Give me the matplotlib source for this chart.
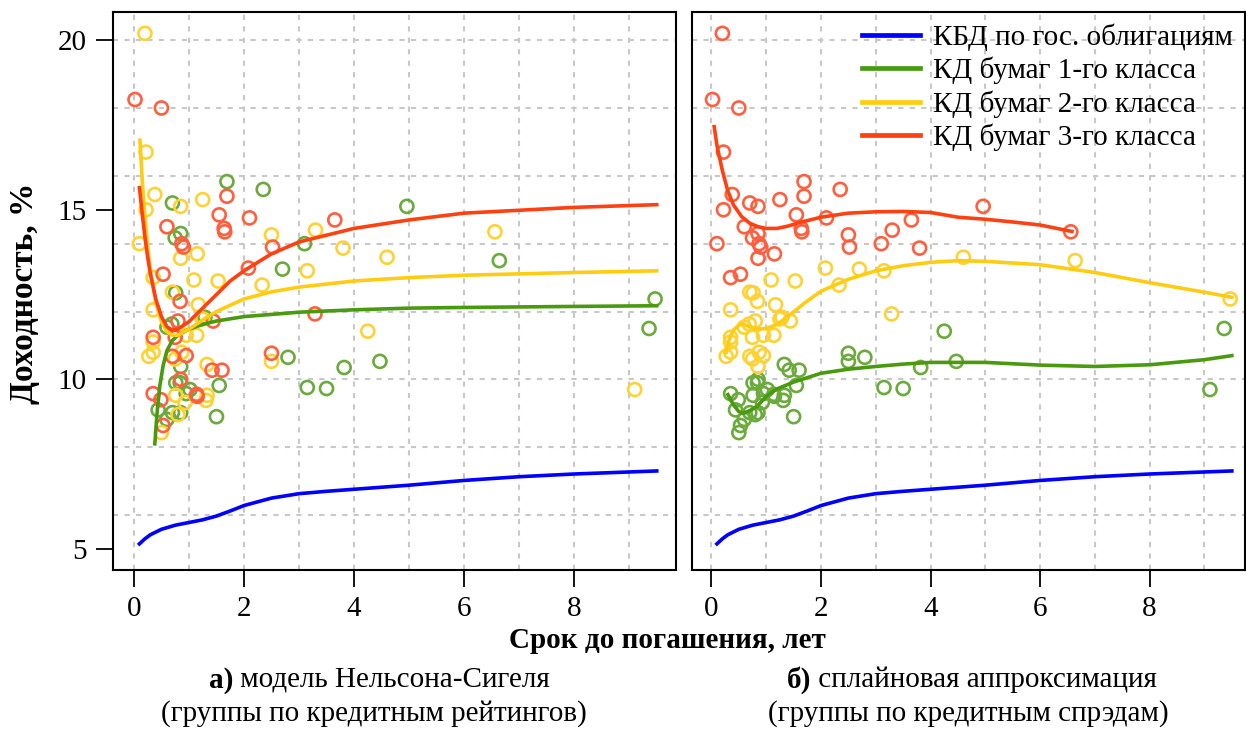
import numpy as np
import matplotlib.pyplot as plt

plt.rcParams['font.family'] = ['Liberation Serif', 'DejaVu Serif']

# bonds: maturity (years), yield (%), group by rating (left) and by spread (right)
mat = [0.20, 0.02, 0.50, 0.22, 0.38, 1.69, 1.69, 2.35, 0.70, 0.85,
       1.25, 0.22, 1.55, 2.10, 3.65, 3.30, 0.60, 0.85, 0.75, 1.64,
       1.65, 0.87, 0.90, 0.10, 2.50, 2.52, 3.10, 3.80, 4.60, 0.85,
       1.15, 0.53, 0.35, 2.08, 2.70, 3.15, 1.09, 1.53, 2.33, 0.70,
       0.76, 0.84, 4.96, 6.56, 6.64, 9.47, 9.36, 9.10, 4.47, 1.17,
       0.35, 1.29, 1.25, 1.44, 0.60, 0.69, 0.80, 0.75, 0.95, 1.14,
       3.29, 4.25, 0.35, 0.35, 0.35, 0.27, 0.70, 0.75, 0.95, 0.87,
       0.85, 2.50, 2.50, 2.80, 3.82, 1.33, 1.42, 1.60, 1.55, 0.85,
       0.76, 0.84, 3.15, 3.50, 0.35, 0.49, 0.76, 1.02, 0.95, 1.14,
       1.15, 1.33, 1.31, 0.93, 0.44, 0.70, 0.85, 0.80, 1.50, 0.60,
       0.53, 0.50]
ytm = [20.20, 18.25, 18.00, 16.70, 15.45, 15.83, 15.40, 15.60, 15.20, 15.10,
       15.30, 15.00, 14.85, 14.76, 14.70, 14.40, 14.50, 14.30, 14.17, 14.45,
       14.35, 14.00, 13.90, 14.00, 14.26, 13.90, 14.00, 13.87, 13.60, 13.57,
       13.70, 13.10, 13.00, 13.28, 13.25, 13.20, 12.93, 12.90, 12.78, 12.57,
       12.55, 12.30, 15.10, 14.35, 13.50, 12.37, 11.50, 9.70, 10.53, 12.20,
       12.05, 11.83, 11.78, 11.72, 11.54, 11.63, 11.72, 11.24, 11.30, 11.30,
       11.93, 11.42, 11.24, 11.10, 10.80, 10.68, 10.68, 10.60, 10.70, 10.80,
       10.38, 10.77, 10.53, 10.65, 10.35, 10.44, 10.27, 10.27, 9.82, 10.00,
       9.90, 9.90, 9.76, 9.73, 9.58, 9.40, 9.53, 9.70, 9.58, 9.56,
       9.50, 9.53, 9.38, 9.32, 9.10, 9.02, 9.02, 8.96, 8.90, 8.82,
       8.64, 8.43]
grp_rating = [2, 3, 3, 2, 2, 1, 3, 1, 1, 2,
              2, 2, 3, 3, 3, 2, 3, 1, 1, 3,
              3, 3, 3, 2, 2, 3, 1, 2, 2, 2,
              2, 3, 2, 3, 1, 2, 2, 2, 2, 2,
              1, 3, 1, 2, 1, 1, 1, 2, 1, 2,
              2, 1, 2, 3, 1, 1, 3, 3, 2, 2,
              3, 2, 3, 2, 2, 2, 3, 2, 3, 2,
              1, 3, 2, 1, 1, 2, 3, 3, 1, 3,
              1, 1, 1, 1, 3, 3, 2, 1, 1, 3,
              3, 2, 2, 2, 1, 1, 1, 2, 1, 1,
              3, 2]
grp_spread = [3, 3, 3, 3, 3, 3, 3, 3, 3, 3,
              3, 3, 3, 3, 3, 3, 3, 3, 3, 3,
              3, 3, 3, 3, 3, 3, 3, 3, 2, 3,
              3, 3, 3, 2, 2, 2, 2, 2, 2, 2,
              2, 2, 3, 3, 2, 2, 1, 1, 1, 2,
              2, 2, 2, 2, 2, 2, 2, 2, 2, 2,
              2, 1, 2, 2, 2, 2, 2, 2, 2, 2,
              2, 1, 1, 1, 1, 1, 1, 1, 1, 1,
              1, 1, 1, 1, 1, 1, 1, 1, 1, 1,
              1, 1, 1, 1, 1, 1, 1, 1, 1, 1,
              1, 1]

# government curve (same on both panels)
gov_x = [0.1, 0.2, 0.3, 0.5, 0.75, 1.0, 1.25, 1.5, 1.75, 2.0, 2.5, 3.0, 3.5, 4.0, 5.0, 6.0, 7.0, 8.0, 9.5]
gov_y = [5.15, 5.3, 5.42, 5.58, 5.7, 5.78, 5.86, 5.97, 6.12, 6.28, 6.5, 6.63, 6.7, 6.76, 6.88, 7.02, 7.13, 7.21, 7.3]

# Nelson-Siegel curves (left)
ns1_x = [0.38, 0.42, 0.47, 0.53, 0.6, 0.7, 0.8, 1.0, 1.25, 1.5, 2.0, 3.0, 4.0, 5.0, 6.0, 8.0, 9.5]
ns1_y = [8.1, 9.0, 9.8, 10.4, 10.85, 11.15, 11.3, 11.48, 11.62, 11.72, 11.85, 11.98, 12.05, 12.1, 12.12, 12.15, 12.17]
ns2_x = [0.11, 0.15, 0.2, 0.25, 0.3, 0.4, 0.5, 0.6, 0.7, 0.8, 1.0, 1.25, 1.5, 2.0, 2.5, 3.0, 4.0, 5.0, 6.0, 8.0, 9.5]
ns2_y = [17.05, 15.9, 14.8, 13.9, 13.2, 12.25, 11.7, 11.4, 11.3, 11.3, 11.48, 11.75, 12.0, 12.37, 12.58, 12.72, 12.9, 13.0, 13.07, 13.15, 13.2]
ns3_x = [0.1, 0.15, 0.2, 0.25, 0.3, 0.4, 0.5, 0.6, 0.7, 0.8, 1.0, 1.25, 1.5, 1.75, 2.0, 2.5, 3.0, 4.0, 5.0, 6.0, 8.0, 9.5]
ns3_y = [15.65, 14.9, 14.2, 13.6, 13.1, 12.35, 11.85, 11.55, 11.45, 11.48, 11.7, 12.1, 12.5, 12.9, 13.2, 13.7, 14.05, 14.45, 14.7, 14.9, 15.07, 15.15]

# spline curves (right)
sp1_x = [0.3, 0.4, 0.5, 0.58, 0.7, 0.83, 1.0, 1.2, 1.5, 2.0, 2.5, 3.0, 3.5, 4.0, 5.0, 6.0, 7.0, 8.0, 9.0, 9.5]
sp1_y = [9.55, 9.25, 9.05, 9.0, 9.08, 9.2, 9.5, 9.72, 9.92, 10.18, 10.3, 10.38, 10.45, 10.5, 10.5, 10.42, 10.38, 10.43, 10.58, 10.7]
sp2_x = [0.27, 0.32, 0.4, 0.5, 0.58, 0.7, 0.83, 1.0, 1.2, 1.4, 1.7, 2.0, 2.5, 3.0, 3.5, 4.0, 4.5, 5.0, 6.0, 7.0, 8.0, 9.0, 9.5]
sp2_y = [10.8, 11.15, 11.45, 11.6, 11.63, 11.55, 11.48, 11.5, 11.62, 11.86, 12.25, 12.6, 12.95, 13.2, 13.35, 13.45, 13.5, 13.48, 13.38, 13.15, 12.85, 12.57, 12.42]
sp3_x = [0.05, 0.1, 0.2, 0.3, 0.4, 0.55, 0.7, 0.85, 1.0, 1.2, 1.4, 1.6, 2.0, 2.5, 3.0, 3.5, 4.0, 4.5, 5.0, 5.5, 6.0, 6.58]
sp3_y = [17.45, 16.9, 16.15, 15.55, 15.15, 14.8, 14.6, 14.5, 14.45, 14.45, 14.52, 14.62, 14.78, 14.9, 14.94, 14.95, 14.92, 14.78, 14.72, 14.64, 14.55, 14.36]

labels = ['КБД по гос. облигациям', 'КД бумаг 1-го класса', 'КД бумаг 2-го класса', 'КД бумаг 3-го класса']
line_col = {0: '#0000FF', 1: '#4A9A10', 2: '#FFCC14', 3: '#FF4010'}
pt_col = {1: '#6BAA3C', 2: '#FFD233', 3: '#FF5F3F'}

mat = np.array(mat)
ytm = np.array(ytm)

fig = plt.figure(figsize=(12.46, 7.29), dpi=100)
axL = fig.add_axes([113/1246, 1-570/729, 563/1246, 558/729])
axR = fig.add_axes([692/1246, 1-570/729, 553/1246, 558/729])


def setup(ax, xlim):
    ax.set_xlim(*xlim)
    ax.set_ylim(4.38, 20.83)
    for gx in range(0, 10):
        ax.axvline(gx, color='#C8C8C8', lw=1.5, ls=(0, (2.5, 3)), zorder=0)
    for gy in range(6, 21, 2):
        ax.axhline(gy, color='#C8C8C8', lw=1.5, ls=(0, (2.5, 3)), zorder=0)
    for s in ax.spines.values():
        s.set_linewidth(1.5)
    ax.set_xticks([0, 2, 4, 6, 8])
    ax.tick_params(axis='both', direction='out', length=12, width=1.3, labelsize=21, pad=7)


setup(axL, (-0.38, 9.85))
setup(axR, (-0.355, 9.74))
axL.set_yticks([5, 10, 15, 20])
axR.set_yticks([])

# scatter of bonds
for ax, grp in [(axL, np.array(grp_rating)), (axR, np.array(grp_spread))]:
    for g in [1, 2, 3]:
        m = grp == g
        ax.scatter(mat[m], ytm[m], s=88, facecolors='none', edgecolors=pt_col[g],
                   linewidths=1.9, zorder=2)

# curves
axL.plot(gov_x, gov_y, color=line_col[0], lw=2.6, zorder=3)
axL.plot(ns1_x, ns1_y, color=line_col[1], lw=2.6, zorder=3)
axL.plot(ns2_x, ns2_y, color=line_col[2], lw=2.6, zorder=3)
axL.plot(ns3_x, ns3_y, color=line_col[3], lw=2.6, zorder=3)

h0, = axR.plot(gov_x, gov_y, color=line_col[0], lw=2.6, zorder=3)
h1, = axR.plot(sp1_x, sp1_y, color=line_col[1], lw=2.6, zorder=3)
h2, = axR.plot(sp2_x, sp2_y, color=line_col[2], lw=2.6, zorder=3)
h3, = axR.plot(sp3_x, sp3_y, color=line_col[3], lw=2.6, zorder=3)

leg = axR.legend([h0, h1, h2, h3], labels, loc='upper left', bbox_to_anchor=(0.286, 1.0),
                 frameon=False, fontsize=21, handlelength=2.0, handletextpad=0.45,
                 labelspacing=0.2, borderaxespad=0.2, borderpad=0.2)
for ln in leg.get_lines():
    ln.set_linewidth(3.4)

fig.text(25/1246, 1-293/729, 'Доходность, %', rotation=90, ha='center', va='center',
         fontsize=24, fontweight='bold')
fig.text(667/1246, 1-640/729, 'Срок до погашения, лет', ha='center', va='center',
         fontsize=21, fontweight='bold')

fig.text(233/1246, 1-680/729, 'а)', ha='right', va='center', fontsize=21, fontweight='bold')
fig.text(233/1246, 1-680/729, ' модель Нельсона-Сигеля', ha='left', va='center', fontsize=21)
fig.text(374/1246, 1-714/729, '(группы по кредитным рейтингов)', ha='center', va='center', fontsize=21)

fig.text(811/1246, 1-680/729, 'б)', ha='right', va='center', fontsize=21, fontweight='bold')
fig.text(811/1246, 1-680/729, ' сплайновая аппроксимация', ha='left', va='center', fontsize=21)
fig.text(968/1246, 1-714/729, '(группы по кредитным спрэдам)', ha='center', va='center', fontsize=21)

fig.savefig('out.png', dpi=100)
